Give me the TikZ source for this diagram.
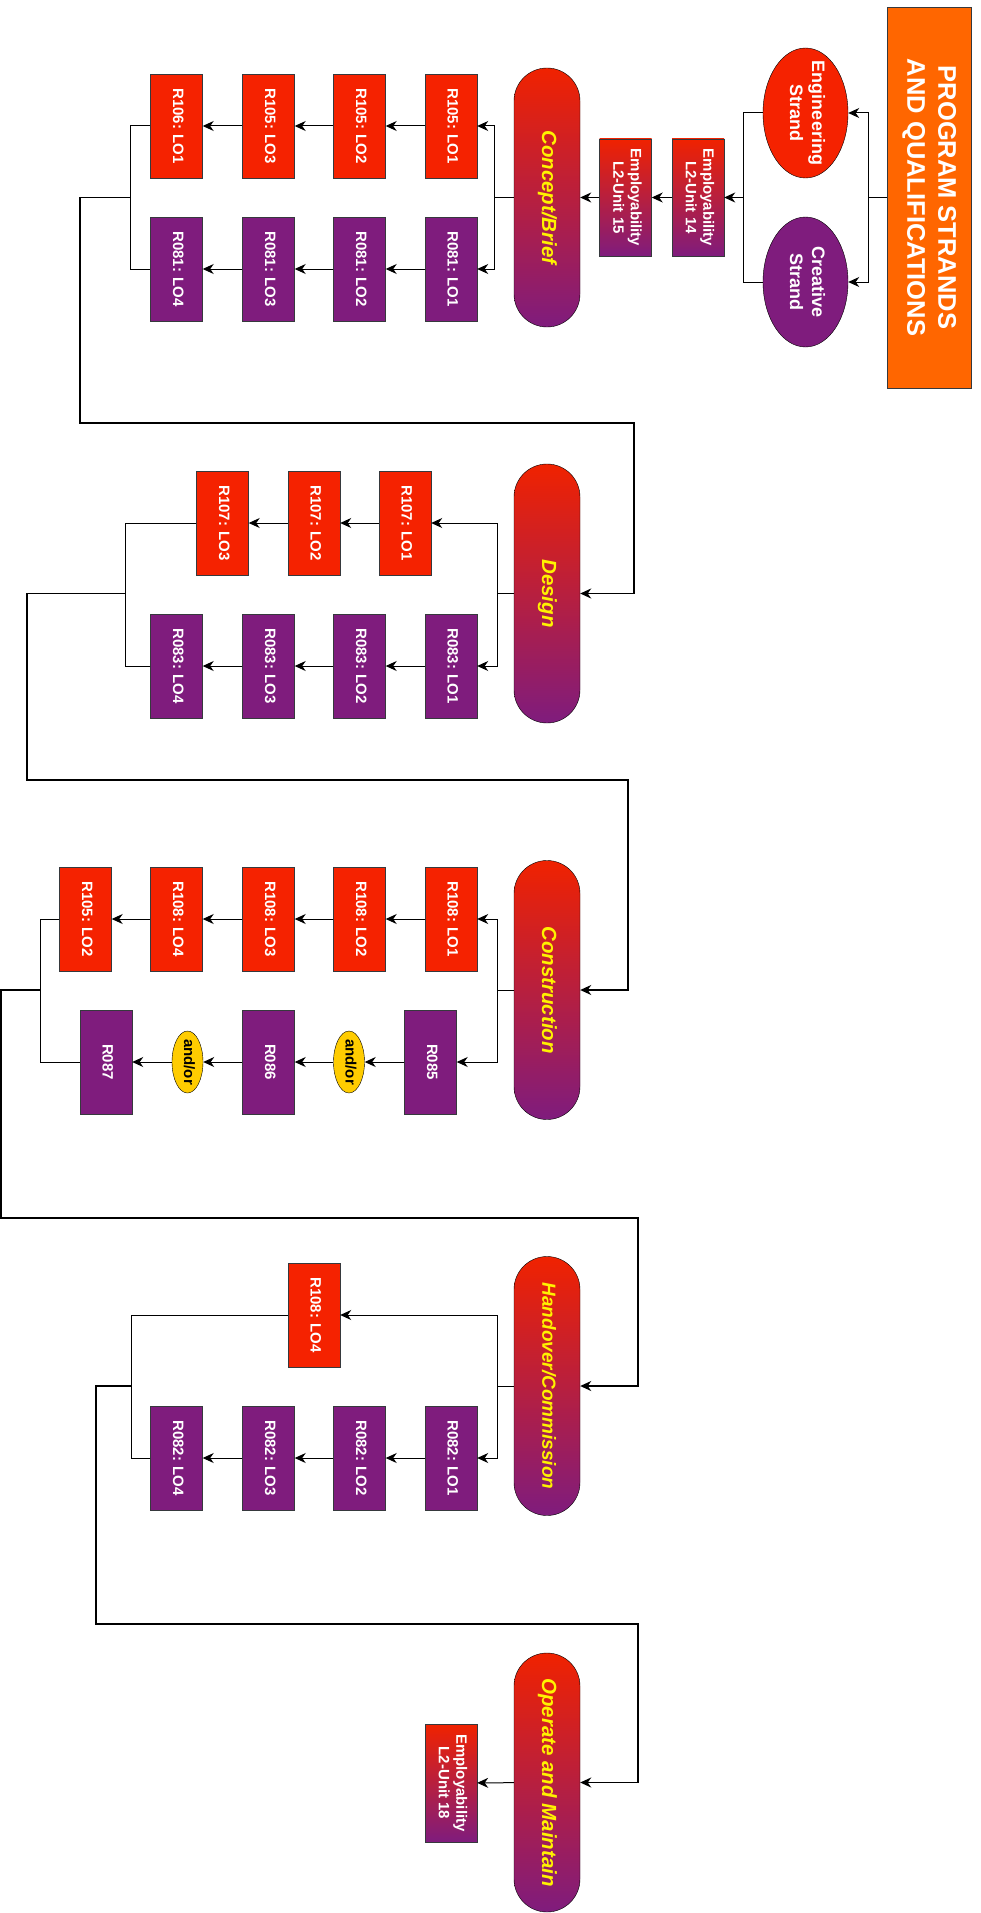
\documentclass[tikz,border=0pt]{standalone}
\usepackage{graphicx}
\usepackage{fontspec}
\setmainfont{Liberation Sans}
\usepackage{tikz}
\usetikzlibrary{arrows.meta}
\usetikzlibrary{calc}
\usetikzlibrary{positioning}
\usetikzlibrary{shapes.geometric}

\definecolor{strandred}{RGB}{245,34,0}
\definecolor{stagered}{RGB}{240,34,0}
\definecolor{strandpurple}{RGB}{127,28,125}
\definecolor{titleorange}{RGB}{255,102,0}
\definecolor{orfill}{RGB}{255,204,0}
\definecolor{edgegray}{RGB}{54,57,61}

% upright text turned to read downwards
\newcommand{\vtext}[1]{\rotatebox{-90}{\begin{tabular}{@{}c@{}}#1\end{tabular}}}

\tikzset{
	lobox/.style={draw=edgegray, minimum width=52pt, minimum height=104pt, inner sep=0pt, text=white, font=\fontsize{15}{17.5}\selectfont\bfseries},
	engbox/.style={lobox, fill=strandred},
	crebox/.style={lobox, fill=strandpurple},
	empbox/.style={lobox, minimum height=117pt, top color=stagered, bottom color=strandpurple},
	titlebox/.style={draw=edgegray, fill=titleorange, minimum width=84pt, minimum height=381pt, inner sep=0pt, text=white, font=\fontsize{25.5}{31}\selectfont\bfseries},
	strand/.style={ellipse, draw=black, minimum width=85pt, minimum height=130pt, inner sep=-8pt, text=white, font=\fontsize{18}{22}\selectfont\bfseries},
	stage/.style={draw=black, rounded corners=33pt, minimum width=66pt, minimum height=259pt, inner sep=0pt, top color=stagered, bottom color=strandpurple, text=yellow, font=\fontsize{20.5}{24}\selectfont\bfseries\itshape},
	andor/.style={ellipse, draw=black, fill=orfill, minimum width=31pt, minimum height=62pt, inner sep=-4pt, font=\fontsize{15}{17.5}\selectfont\bfseries},
	link/.style={line width=1pt},
	arr/.style={link, -{Stealth[length=11pt, width=10pt, inset=3.5pt]}},
	route/.style={line width=1.6pt}
}

\begin{document}
\begin{tikzpicture}[x=1pt, y=-1pt]
	\useasboundingbox (0,0) rectangle (980,1913);

	% header, strands and first employability units
	\path	(929,197.5)	node[titlebox] (t)	{\vtext{PROGRAM STRANDS\\AND QUALIFICATIONS}}
		(805.5,113)	node[strand, fill=strandred] (eng)	{\vtext{Engineering\\Strand}}
		(805.5,282)	node[strand, fill=strandpurple] (cre)	{\vtext{Creative\\Strand}}
		(698,197.5)	node[empbox] (e14)	{\vtext{Employability\\L2-Unit 14}}
		(625.5,197.5)	node[empbox] (e15)	{\vtext{Employability\\L2-Unit 15}};

	% stages
	\path	(547,197.5)	node[stage] (s1)	{\vtext{Concept/Brief}}
		(547,593.5)	node[stage] (s2)	{\vtext{Design}}
		(547,990)	node[stage] (s3)	{\vtext{Construction}}
		(547,1386)	node[stage, font=\fontsize{19}{23}\selectfont\bfseries\itshape] (s4)	{\vtext{Handover/Commission}}
		(547,1782.5)	node[stage] (s5)	{\vtext{Operate and Maintain}};

	\coordinate (tj) at (868,197.5);
	\coordinate (sj) at (743,197.5);
	\draw[link] (t.west) -- (tj);
	\draw[arr] (tj) |- (eng.east);
	\draw[arr] (tj) |- (cre.east);
	\draw[link] (eng.west) -| (sj);
	\draw[link] (cre.west) -| (sj);
	\draw[arr] (sj) -- (e14);
	\draw[arr] (e14) -- (e15);
	\draw[arr] (e15) -- (s1);

	% concept/brief
	\path	(451,126)	node[engbox] (ar1)	{\vtext{R105: LO1}}
		(359.5,126)	node[engbox] (ar2)	{\vtext{R105: LO2}}
		(268.5,126)	node[engbox] (ar3)	{\vtext{R105: LO3}}
		(176.5,126)	node[engbox] (ar4)	{\vtext{R106: LO1}}
		(451,269)	node[crebox] (ap1)	{\vtext{R081: LO1}}
		(359.5,269)	node[crebox] (ap2)	{\vtext{R081: LO2}}
		(268.5,269)	node[crebox] (ap3)	{\vtext{R081: LO3}}
		(176.5,269)	node[crebox] (ap4)	{\vtext{R081: LO4}};
	\coordinate (aj) at (494,197.5);
	\coordinate (ak) at (130,197.5);
	\draw[link] (s1.west) -- (aj);
	\draw[arr] (aj) |- (ar1.east);
	\draw[arr] (aj) |- (ap1.east);
	\draw[arr] (ar1) -- (ar2);
	\draw[arr] (ar2) -- (ar3);
	\draw[arr] (ar3) -- (ar4);
	\draw[arr] (ap1) -- (ap2);
	\draw[arr] (ap2) -- (ap3);
	\draw[arr] (ap3) -- (ap4);
	\draw[link] (ar4.west) -| (ak);
	\draw[link] (ap4.west) -| (ak);
	\draw[arr, route] (ak) -- (80,197.5) -- (80,423) -- (634,423) |- (s2.east);

	% design
	\path	(405,523)	node[engbox] (br1)	{\vtext{R107: LO1}}
		(314,523)	node[engbox] (br2)	{\vtext{R107: LO2}}
		(222.5,523)	node[engbox] (br3)	{\vtext{R107: LO3}}
		(451,666)	node[crebox] (bp1)	{\vtext{R083: LO1}}
		(359.5,666)	node[crebox] (bp2)	{\vtext{R083: LO2}}
		(268.5,666)	node[crebox] (bp3)	{\vtext{R083: LO3}}
		(176.5,666)	node[crebox] (bp4)	{\vtext{R083: LO4}};
	\coordinate (bj) at (497,593.5);
	\coordinate (bk) at (125,593.5);
	\draw[link] (s2.west) -- (bj);
	\draw[arr] (bj) |- (br1.east);
	\draw[arr] (bj) |- (bp1.east);
	\draw[arr] (br1) -- (br2);
	\draw[arr] (br2) -- (br3);
	\draw[arr] (bp1) -- (bp2);
	\draw[arr] (bp2) -- (bp3);
	\draw[arr] (bp3) -- (bp4);
	\draw[link] (br3.west) -| (bk);
	\draw[link] (bp4.west) -| (bk);
	\draw[arr, route] (bk) -- (27,593.5) -- (27,780) -- (628,780) |- (s3.east);

	% construction
	\path	(451,919)	node[engbox] (cr1)	{\vtext{R108: LO1}}
		(359.5,919)	node[engbox] (cr2)	{\vtext{R108: LO2}}
		(268.5,919)	node[engbox] (cr3)	{\vtext{R108: LO3}}
		(176.5,919)	node[engbox] (cr4)	{\vtext{R108: LO4}}
		(85.5,919)	node[engbox] (cr5)	{\vtext{R105: LO2}}
		(430.5,1062)	node[crebox] (cp1)	{\vtext{R085}}
		(349,1062)	node[andor] (co1)	{\vtext{and/or}}
		(268.5,1062)	node[crebox] (cp2)	{\vtext{R086}}
		(187.5,1062)	node[andor] (co2)	{\vtext{and/or}}
		(106,1062)	node[crebox] (cp3)	{\vtext{R087}};
	\coordinate (cj) at (497,990);
	\coordinate (ck) at (40,990);
	\draw[link] (s3.west) -- (cj);
	\draw[arr] (cj) |- (cr1.east);
	\draw[arr] (cj) |- (cp1.east);
	\draw[arr] (cr1) -- (cr2);
	\draw[arr] (cr2) -- (cr3);
	\draw[arr] (cr3) -- (cr4);
	\draw[arr] (cr4) -- (cr5);
	\draw[arr] (cp1) -- (co1);
	\draw[arr] (co1) -- (cp2);
	\draw[arr] (cp2) -- (co2);
	\draw[arr] (co2) -- (cp3);
	\draw[link] (cr5.west) -| (ck);
	\draw[link] (cp3.west) -| (ck);
	\draw[arr, route] (ck) -- (1,990) -- (1,1218) -- (638,1218) |- (s4.east);

	% handover/commission
	\path	(314,1315)	node[engbox] (dr1)	{\vtext{R108: LO4}}
		(451,1458)	node[crebox] (dp1)	{\vtext{R082: LO1}}
		(359.5,1458)	node[crebox] (dp2)	{\vtext{R082: LO2}}
		(268.5,1458)	node[crebox] (dp3)	{\vtext{R082: LO3}}
		(176.5,1458)	node[crebox] (dp4)	{\vtext{R082: LO4}};
	\coordinate (dj) at (497,1386);
	\coordinate (dk) at (131,1386);
	\draw[link] (s4.west) -- (dj);
	\draw[arr] (dj) |- (dr1.east);
	\draw[arr] (dj) |- (dp1.east);
	\draw[arr] (dp1) -- (dp2);
	\draw[arr] (dp2) -- (dp3);
	\draw[arr] (dp3) -- (dp4);
	\draw[link] (dr1.west) -| (dk);
	\draw[link] (dp4.west) -| (dk);
	\draw[arr, route] (dk) -- (96,1386) -- (96,1624) -- (638,1624) |- (s5.east);

	% operate and maintain
	\path	(451,1783)	node[empbox, minimum height=118pt] (e18)	{\vtext{Employability\\L2-Unit 18}};
	\draw[arr] (s5) -- (e18);
\end{tikzpicture}
\end{document}
